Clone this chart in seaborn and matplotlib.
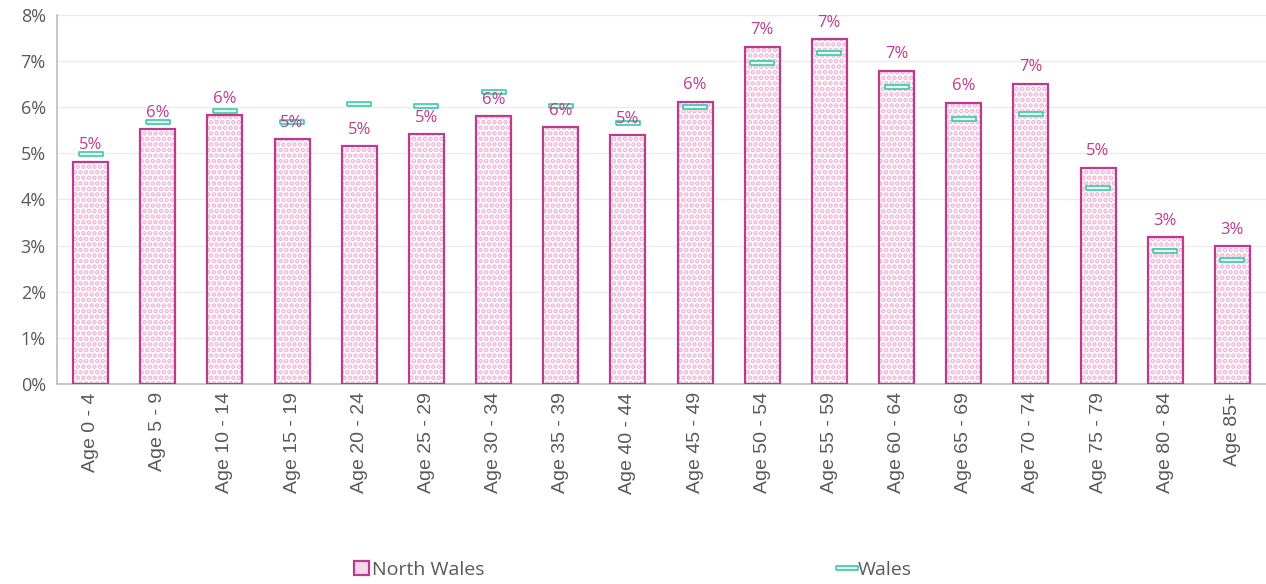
import matplotlib
matplotlib.use("Agg")
import matplotlib.pyplot as plt
import numpy as np
import pandas as pd
import seaborn as sns
from matplotlib.lines import Line2D
from matplotlib.patches import Patch
from matplotlib.ticker import FuncFormatter

# Share of population by age band
age_groups = [
    "Age 0 - 4", "Age 5 - 9", "Age 10 - 14", "Age 15 - 19", "Age 20 - 24",
    "Age 25 - 29", "Age 30 - 34", "Age 35 - 39", "Age 40 - 44", "Age 45 - 49",
    "Age 50 - 54", "Age 55 - 59", "Age 60 - 64", "Age 65 - 69", "Age 70 - 74",
    "Age 75 - 79", "Age 80 - 84", "Age 85+",
]
north_wales = [
    4.82, 5.53, 5.83, 5.31, 5.16, 5.42, 5.81, 5.57, 5.40, 6.12,
    7.31, 7.48, 6.79, 6.10, 6.51, 4.69, 3.19, 2.99,
]
wales = [
    4.99, 5.68, 5.92, 5.68, 6.07, 6.03, 6.33, 6.03, 5.66, 6.01,
    6.96, 7.18, 6.44, 5.75, 5.86, 4.25, 2.89, 2.69,
]
y_ticks = [0, 1, 2, 3, 4, 5, 6, 7, 8]

MAGENTA = "#BE3A8E"
PINK = "#EDB5D6"
TEAL = "#3CC9A6"
GREY = "#595959"

df = pd.DataFrame({"age": age_groups, "north_wales": north_wales, "wales": wales})

sns.set_theme(style="white")
plt.rcParams["font.family"] = ["Open Sans", "DejaVu Sans"]
plt.rcParams["hatch.linewidth"] = 2.4

fig = plt.figure(figsize=(12.66, 5.84), dpi=100)
ax = fig.add_axes([0.045, 0.3425, 0.955, 0.6318])

# dotted fill layer, then the outline on top
sns.barplot(data=df, x="age", y="north_wales", ax=ax, width=0.52,
            color="white", edgecolor=PINK, linewidth=0, hatch="...",
            saturation=1, zorder=2)
sns.barplot(data=df, x="age", y="north_wales", ax=ax, width=0.52,
            fill=False, edgecolor=MAGENTA, linewidth=1.6,
            saturation=1, zorder=3)

# Wales marker: small flat outlined box
box = [(-1, -0.16), (1, -0.16), (1, 0.16), (-1, 0.16), (-1, -0.16)]
ax.scatter(np.arange(len(age_groups)), df["wales"], marker=box, s=300,
           facecolor="#E6F8F3", edgecolor=TEAL, linewidth=1.2, zorder=4)

for i, v in enumerate(north_wales):
    ax.annotate(f"{round(v):.0f}%", (i, v), xytext=(0, 6),
                textcoords="offset points", ha="center", va="bottom",
                fontsize=12, color=MAGENTA, zorder=5)

ax.set_ylim(0, 8)
ax.set_xlim(-0.5, len(age_groups) - 0.5)
ax.set_yticks(y_ticks)
ax.yaxis.set_major_formatter(FuncFormatter(lambda v, _: f"{v:.0f}%"))
ax.yaxis.grid(True, color="#EBEBEB", linewidth=1)
ax.set_axisbelow(True)
ax.set_xlabel("")
ax.set_ylabel("")

ax.tick_params(axis="y", labelsize=13, colors=GREY, pad=8, length=0)
ax.tick_params(axis="x", length=0, pad=6)
for lab in ax.get_xticklabels():
    lab.set_rotation(90)
    lab.set_fontfamily(["Liberation Sans", "DejaVu Sans"])
    lab.set_fontsize(14)
    lab.set_color(GREY)

for side in ["top", "right"]:
    ax.spines[side].set_visible(False)
ax.spines["left"].set_color("#BFBFBF")
ax.spines["bottom"].set_color("#BFBFBF")

handles = [
    Patch(facecolor="#F5D8EA", edgecolor=MAGENTA, linewidth=1.6),
    Line2D([0], [0], linestyle="", marker=box, markersize=16,
           markerfacecolor="#E6F8F3", markeredgecolor=TEAL,
           markeredgewidth=1.2),
]
leg = fig.legend(handles, ["North Wales", "Wales"], loc="center",
                 bbox_to_anchor=(0.5, 0.024), ncol=2, frameon=False,
                 fontsize=14, columnspacing=18.3, handlelength=0.75,
                 handleheight=0.75, handletextpad=0.15)
for t in leg.get_texts():
    t.set_color(GREY)

fig.savefig("out.png", dpi=100)
